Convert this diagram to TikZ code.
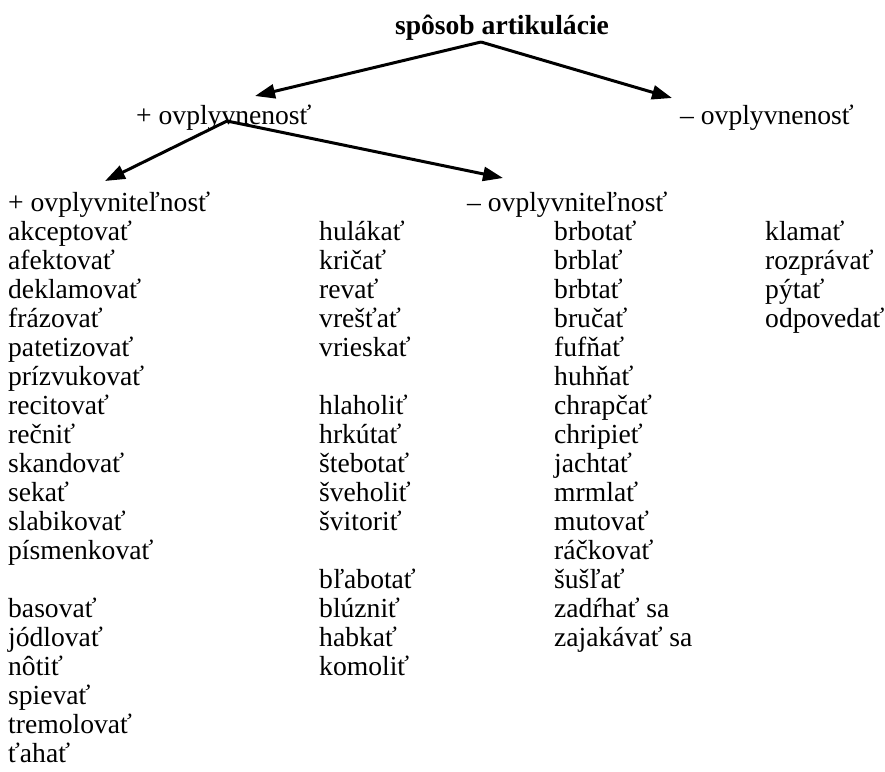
\documentclass[tikz,border=0pt]{standalone}
\usepackage{fontspec}
\setmainfont{Liberation Serif}
\usetikzlibrary{arrows.meta}
\begin{document}
\begin{tikzpicture}[x=1pt,y=-1pt,
  word/.style={anchor=base west,inner sep=0pt,font=\fontsize{27.6}{29}\selectfont},
  head/.style={anchor=base,inner sep=0pt,font=\fontsize{27.6}{29}\selectfont\bfseries},
  arr/.style={line width=3pt,-{Triangle[length=20pt,width=14pt]}}]
\useasboundingbox (0,0) rectangle (885,771);
\node[head] (title) at (502,34) {spôsob artikulácie};
\node[word] (plus) at (136,124) {+ ovplyvnenosť};
\node[word] (minus) at (680,124) {– ovplyvnenosť};
\node[word] (pv) at (8,211) {+ ovplyvniteľnosť};
\node[word] (mv) at (467,211) {– ovplyvniteľnosť};
\coordinate (s1) at (481,42);
\coordinate (e1) at (255,96);
\coordinate (e2) at (672,98);
\coordinate (s2) at (227,121);
\coordinate (e3) at (105,181);
\coordinate (e4) at (503,178);
\draw[arr] (s1) -- (e1);
\draw[arr] (s1) -- (e2);
\draw[arr] (s2) -- (e3);
\draw[arr] (s2) -- (e4);
\foreach \w [count=\i from 0] in {akceptovať,afektovať,deklamovať,frázovať,patetizovať,prízvukovať,recitovať,rečniť,skandovať,sekať,slabikovať,písmenkovať}
  \node[word] (a\i) at (8,{240+29.05*\i}) {\w};
\foreach \w [count=\i from 13] in {basovať,jódlovať,nôtiť,spievať,tremolovať,ťahať}
  \node[word] (a\i) at (8,{240+29.05*\i}) {\w};
\foreach \w [count=\i from 0] in {hulákať,kričať,revať,vrešťať,vrieskať}
  \node[word] (b\i) at (319,{240+29.05*\i}) {\w};
\foreach \w [count=\i from 6] in {hlaholiť,hrkútať,štebotať,šveholiť,švitoriť}
  \node[word] (b\i) at (319,{240+29.05*\i}) {\w};
\foreach \w [count=\i from 12] in {bľabotať,blúzniť,habkať,komoliť}
  \node[word] (b\i) at (319,{240+29.05*\i}) {\w};
\foreach \w [count=\i from 0] in {brbotať,brblať,brbtať,bručať,fufňať,huhňať,chrapčať,chripieť,jachtať,mrmlať,mutovať,ráčkovať,šušľať,zadŕhať sa,zajakávať sa}
  \node[word] (c\i) at (554,{240+29.05*\i}) {\w};
\foreach \w [count=\i from 0] in {klamať,rozprávať,pýtať,odpovedať}
  \node[word] (d\i) at (765,{240+29.05*\i}) {\w};
\end{tikzpicture}
\end{document}
